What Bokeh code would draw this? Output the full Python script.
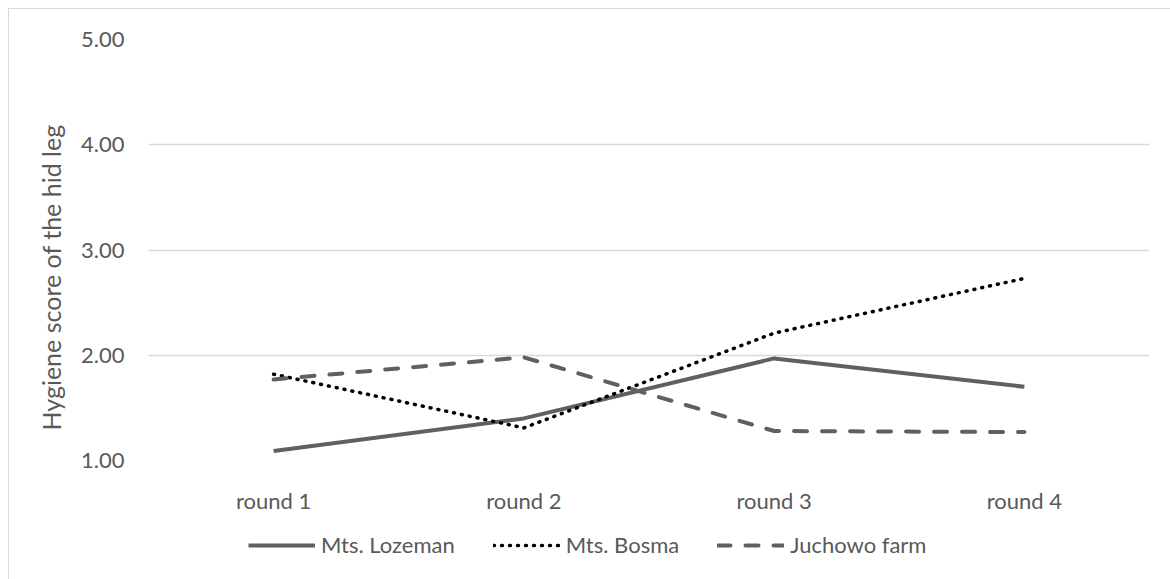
from bokeh.embed import file_html
from bokeh.layouts import column
from bokeh.models import ColumnDataSource, FactorRange, Legend, LegendItem, Range1d, Title
from bokeh.plotting import figure
from bokeh.resources import INLINE

# Hygiene scores per sampling round
rounds = ["round 1", "round 2", "round 3", "round 4"]
lozeman = [1.09, 1.40, 1.97, 1.70]
bosma = [1.82, 1.31, 2.21, 2.73]
juchowo = [1.77, 1.98, 1.28, 1.27]
y_ticks = [1.0, 2.0, 3.0, 4.0, 5.0]
series_names = ["Mts. Lozeman", "Mts. Bosma", "Juchowo farm"]

FONT = "Lato"
TXT = "#595959"
FS = "22px"

# line styles shared by chart and legend
STYLES = [
    dict(line_color="#606060", line_width=4, line_join="round"),
    dict(line_color="#000000", line_width=3.5, line_dash="1 7", line_cap="round", line_join="round"),
    dict(line_color="#606060", line_width=4, line_dash="13 15", line_cap="round", line_join="round"),
]

p = figure(
    width=1161, height=516,
    x_range=FactorRange(factors=rounds, range_padding=0),
    y_range=Range1d(1.0, 5.0),
    output_backend="svg", toolbar_location=None,
    min_border_left=139, min_border_right=21,
    min_border_top=30, min_border_bottom=65,
)
p.outline_line_color = None
p.background_fill_color = "white"
p.border_fill_color = "white"

# axes
p.xaxis.axis_line_color = None
p.xaxis.major_tick_line_color = None
p.xaxis.minor_tick_line_color = None
p.xaxis.major_label_text_font = FONT
p.xaxis.major_label_text_font_size = FS
p.xaxis.major_label_text_color = TXT
p.xaxis.major_label_standoff = 20

p.yaxis.axis_line_color = None
p.yaxis.major_tick_line_color = None
p.yaxis.minor_tick_line_color = None
p.yaxis.ticker = y_ticks
p.yaxis.major_label_overrides = {t: f"{t:.2f}" for t in y_ticks}
p.yaxis.major_label_text_font = FONT
p.yaxis.major_label_text_font_size = FS
p.yaxis.major_label_text_color = TXT
p.yaxis.major_label_standoff = 18

p.xgrid.grid_line_color = None
p.ygrid.grid_line_color = "#d9d9d9"
p.ygrid.grid_line_width = 1.5
p.ygrid.ticker = y_ticks

src = ColumnDataSource(dict(r=rounds, a=lozeman, b=bosma, c=juchowo))
for col, st in zip(["a", "b", "c"], STYLES):
    p.line("r", col, source=src, **st)

p.add_layout(Title(
    text="Hygiene score of the hid leg", align="left", offset=22, padding=8,
    text_font=FONT, text_font_size="25px", text_color=TXT, text_font_style="normal",
), "left")

# legend strip under the chart (its lines sit outside the visible y range)
lg = figure(
    width=1161, height=54,
    x_range=FactorRange(factors=rounds, range_padding=0), y_range=Range1d(10, 11),
    output_backend="svg", toolbar_location=None,
    min_border_left=0, min_border_right=0, min_border_top=0, min_border_bottom=0,
)
lg.axis.visible = False
lg.grid.visible = False
lg.outline_line_color = None
items = []
for name, col, st in zip(series_names, ["a", "b", "c"], STYLES):
    r = lg.line("r", col, source=src, **st)
    items.append(LegendItem(label=name, renderers=[r]))

legend = Legend(
    items=items,
    orientation="horizontal",
    location=(100, 21),
    glyph_width=67, glyph_height=24,
    label_standoff=6, spacing=38,
    padding=0, margin=0,
    border_line_color=None, background_fill_alpha=0,
    label_text_font=FONT, label_text_font_size=FS, label_text_color=TXT,
)
lg.add_layout(legend, "center")

# chart area border (top and left edges visible)
layout = column(p, lg, spacing=0, styles={
    "margin-left": "8px", "margin-top": "8px",
    "border-left": "1px solid #d9d9d9", "border-top": "1px solid #d9d9d9"})

open("out.html", "w").write(file_html(layout, INLINE))
